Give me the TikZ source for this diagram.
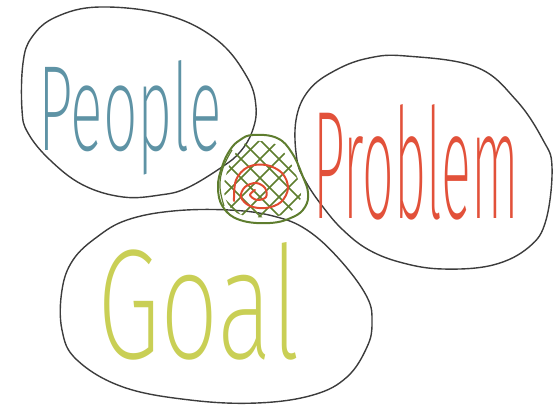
\documentclass[tikz,border=0pt]{standalone}
\usepackage{fontspec}
\usepackage{graphicx}
\IfFontExistsTF{Fira Sans ExtraLight}{\newfontfamily\hand{Fira Sans ExtraLight}}{%
 \IfFontExistsTF{Fira Sans Thin}{\newfontfamily\hand{Fira Sans Thin}}{%
  \IfFontExistsTF{Lato Light}{\newfontfamily\hand{Lato Light}}{%
   \IfFontExistsTF{Open Sans Light}{\newfontfamily\hand{Open Sans Light}}{%
    \newfontfamily\hand{Fira Sans}}}}}
\definecolor{inkblack}{HTML}{3C3C3C}
\definecolor{peopleblue}{HTML}{5E93A5}
\definecolor{problemred}{HTML}{E2513A}
\definecolor{goalyellow}{HTML}{C9CF55}
\definecolor{olive}{HTML}{5E7D2E}
\definecolor{spiralred}{HTML}{E04A30}
\tikzset{
  blob/.style={draw=inkblack, line width=1.4pt, line join=round},
  word/.style={anchor=base west, inner sep=0pt, outer sep=0pt},
  hatchline/.style={draw=olive, line width=1.5pt, line cap=round},
}
\begin{document}
\begin{tikzpicture}[x=1pt,y=-1pt]
\useasboundingbox (0,0) rectangle (556,409);
% People blob
\draw[blob] plot[smooth cycle, tension=0.65] coordinates {
 (100,7) (167,15) (217,40) (247,77) (256,107) (252,132) (240,152) (222,167)
 (187,188) (160,195) (123,197) (83,185) (50,160) (28,133) (22,110) (23,63) (32,37) (56,17)};
% Problem blob
\draw[blob] plot[smooth cycle, tension=0.65] coordinates {
 (406,56) (476,67) (516,100) (543,140) (552,167) (546,220) (529,247) (493,265)
 (443,269) (403,263) (369,250) (343,230) (323,207) (306,182) (297,160) (296,120)
 (309,90) (336,70) (369,58)};
% Goal blob
\draw[blob] plot[smooth cycle, tension=0.65] coordinates {
 (173,211) (229,210) (273,216) (307,230) (340,260) (367,297) (372,323) (367,347)
 (347,377) (313,395) (257,403) (190,400) (123,387) (77,360) (62,330) (62,290)
 (73,260) (97,237) (127,220)};
% central blob hatching
\begin{scope}
 \clip plot[smooth cycle, tension=0.7] coordinates {
 (253,141) (275,144) (287,157) (297,177) (301,193) (298,204) (289,212) (270,217)
 (242,215) (228,204) (224,187) (228,169) (235,154) (243,145)};
 \foreach \k in {-4,...,4} {
   \draw[hatchline] (262+19*\k-80,180-80) -- (262+19*\k+80,180+80);
   \draw[hatchline] (258+19*\k+80,180-80) -- (258+19*\k-80,180+80);
 }
\end{scope}
\draw[draw=olive, line width=2pt, line join=round] plot[smooth cycle, tension=0.7] coordinates {
 (253,135) (277,138) (292,153) (303,177) (308,193) (305,207) (293,217) (270,223)
 (240,220) (223,207) (218,187) (222,167) (230,150) (240,140)};
\draw[draw=olive, line width=1.2pt] plot[smooth, tension=0.7] coordinates {
 (232,150) (223,168) (220,187) (224,206)};
% red spiral
\draw[draw=spiralred, line width=2pt, line cap=round, line join=round]
 plot[smooth, tension=0.6] coordinates {
 (234,201) (236,180) (248,167) (266,165) (282,173) (288,188) (281,202) (266,208)
 (250,206) (241,197) (245,187) (256,183) (265,188) (266,197) (257,200) (250,195) (255,190)};
% words
\node[word, text=peopleblue] (people) at (38,150) {\resizebox{184pt}{90pt}{\hand People}};
\node[word, text=problemred] (problem) at (313,218) {\resizebox{206pt}{114pt}{\hand Problem}};
\node[word, text=goalyellow] (goal) at (97,358) {\resizebox{203pt}{116pt}{\hand Goal}};
\end{tikzpicture}
\end{document}
